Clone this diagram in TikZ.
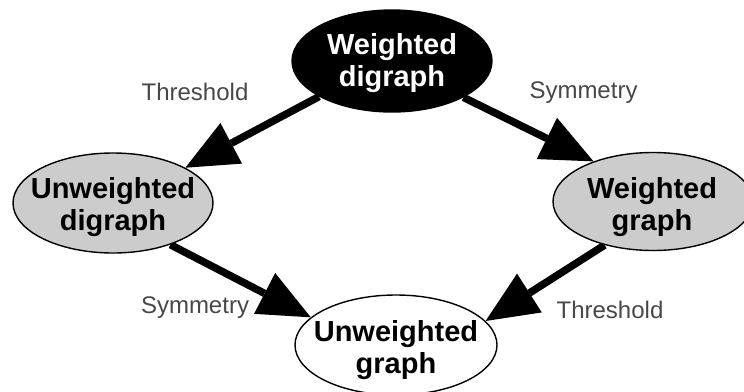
\documentclass[tikz,border=0pt]{standalone}
\usepackage{fontspec}
\setmainfont{Liberation Sans}
\usepackage{tikz}
\usetikzlibrary{arrows.meta, shapes.geometric, backgrounds}
\tikzstyle{state} = [ellipse, draw, line width=1.4pt, inner sep=0pt,
  minimum width=200pt, minimum height=100pt, fill=black!20]
\tikzstyle{title} = [align=center, inner sep=0pt,
  font=\fontsize{29}{32}\selectfont\bfseries]
\tikzstyle{lbl} = [anchor=base, inner sep=0pt, text=black!72,
  font=\fontsize{24}{28}\selectfont]
\tikzstyle{arrow} = [line width=7.5pt, -{Triangle[length=52pt, width=46pt, line width=0pt]}]

\begin{document}
\begin{tikzpicture}[x=1pt, y=-1pt]
    \useasboundingbox (0,0) rectangle (744,391);
    \node[state, fill=black, minimum height=102pt] (wdig) at (392,61) {};
    \node[state] (udig) at (113,203) {};
    \node[state, minimum height=98pt] (wgr) at (653,201.5) {};
    \node[state, fill=white, minimum width=202pt] (ugr) at (396,345) {};
    \node[title, text=white] (wdigtxt) at (392,63) {Weighted\\digraph};
    \node[title] (udigtxt) at (113,207) {Unweighted\\digraph};
    \node[title] (wgrtxt) at (652,207.5) {Weighted\\graph};
    \node[title] (ugrtxt) at (396,350) {Unweighted\\graph};
    \node[lbl] (thr1) at (195,100) {Threshold};
    \node[lbl] (sym1) at (583.5,98) {Symmetry};
    \node[lbl] (sym2) at (195,313) {Symmetry};
    \node[lbl] (thr2) at (610,318) {Threshold};
    \begin{pgfonlayer}{background}
    \draw[arrow] (wdig.206.6) -- (udig.26.6);
    \draw[arrow] (wdig.333) -- (wgr.146.6);
    \draw[arrow] (udig.324.7) -- (ugr.162.2);
    \draw[arrow] (wgr.222.8) -- (ugr.15.9);
    \end{pgfonlayer}
  \end{tikzpicture}
\end{document}
